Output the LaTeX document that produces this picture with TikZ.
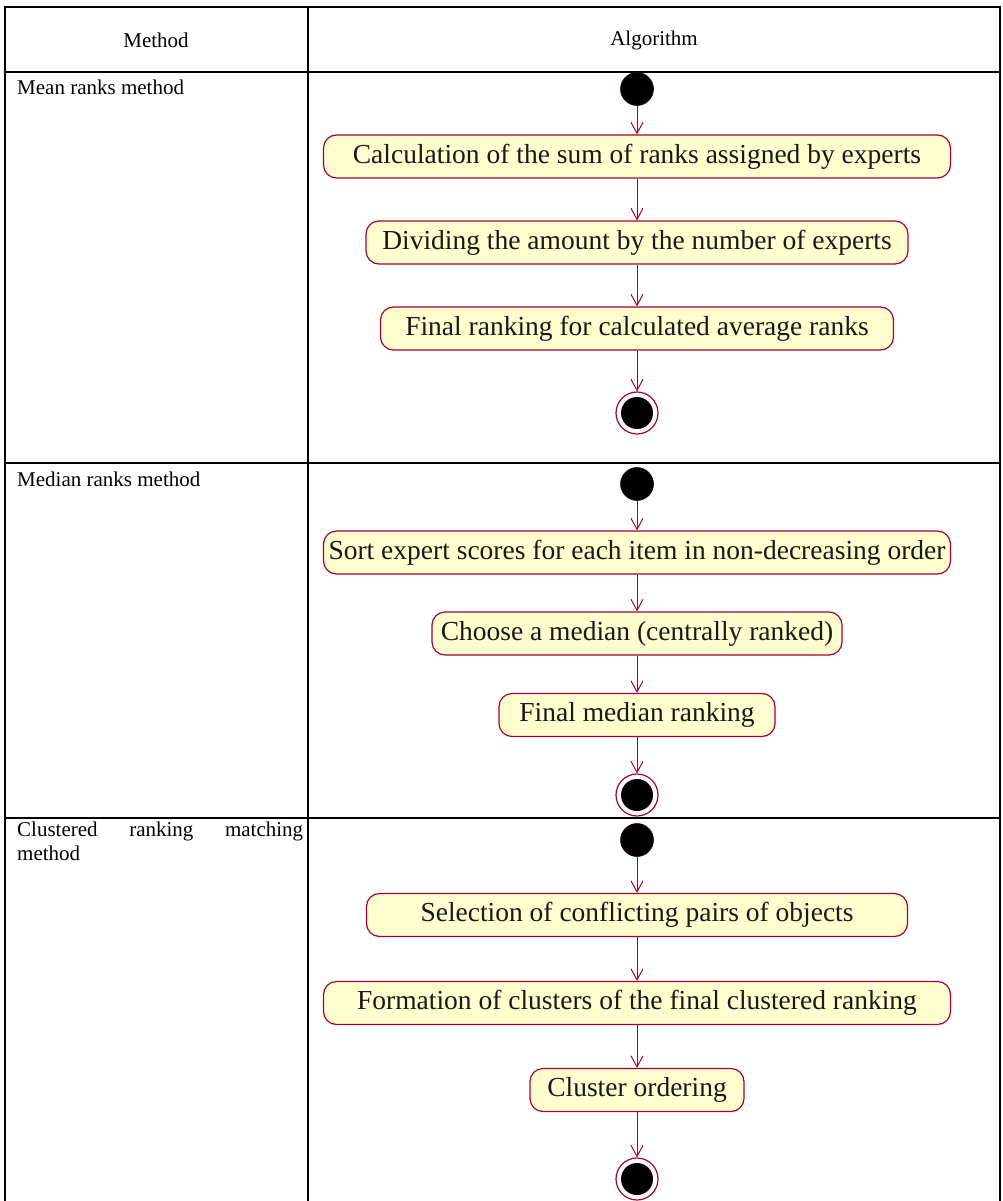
\documentclass[tikz,border=0pt]{standalone}
\usepackage{fontspec}
\setmainfont{Liberation Serif}
\usetikzlibrary{arrows.meta}
\definecolor{umlred}{HTML}{A80036}
\definecolor{umlfill}{HTML}{FEFECE}
\tikzset{
  grid/.style={line width=2pt, black},
  celltext/.style={font=\fontsize{21}{25}\selectfont, inner sep=0pt, anchor=base west},
  headtext/.style={font=\fontsize{21}{25}\selectfont, inner sep=0pt},
  activity/.style={draw=umlred, fill=umlfill, line width=1.2pt, rounded corners=13pt,
    minimum height=43pt, inner xsep=4pt, inner ysep=0pt,
    font=\fontsize{27.5}{32}\selectfont, text=black!90},
  startdot/.style={circle, fill=black, draw=black!70!umlred, line width=0.6pt,
    minimum size=33pt, inner sep=0pt},
  enddot/.style={circle, draw=umlred, line width=1.2pt, fill=white,
    minimum size=42pt, inner sep=0pt,
    path picture={\fill[black] (path picture bounding box.center) circle (16pt);}},
  flow/.style={draw=umlred, line width=1pt, -{Straight Barb[length=11pt,width=12pt]}},
}
\begin{document}
\begin{tikzpicture}[x=1pt, y=-1pt]
\useasboundingbox (0,0) rectangle (1003,1201);

% table grid
\draw[grid] (5,1201) -- (5,7) -- (1000,7) -- (1000,1201);
\draw[grid] (308,7) -- (308,1201);
\draw[grid] (5,72) -- (1000,72);
\draw[grid] (5,463) -- (1000,463);
\draw[grid] (5,818) -- (1000,818);

% header
\node[headtext] (hmethod) at (156,40) {Method};
\node[headtext] (halgo) at (654,40) {Algorithm};

% method names
\node[celltext] (m1) at (17,95) {Mean ranks method};
\node[celltext] (m2) at (17,486) {Median ranks method};
\node[celltext, text width=286pt, align=left, anchor=north west, font=\fontsize{21}{24}\selectfont]
  (m3) at (17,822) {Clustered\hfill ranking\hfill matching\\method};

% mean ranks method
\node[startdot] (s1) at (637,89) {};
\node[activity, minimum width=627pt] (a1) at (637,156.5) {Calculation of the sum of ranks assigned by experts};
\node[activity, minimum width=542pt] (a2) at (637,242.5) {Dividing the amount by the number of experts};
\node[activity, minimum width=513pt] (a3) at (637,328.5) {Final ranking for calculated average ranks};
\node[enddot] (e1) at (637,413) {};
\draw[flow] (s1) -- (a1);
\draw[flow] (a1) -- (a2);
\draw[flow] (a2) -- (a3);
\draw[flow] (a3) -- (e1);

% median ranks method
\node[startdot] (s2) at (637,484) {};
\node[activity, minimum width=627pt] (b1) at (637,552.5) {Sort expert scores for each item in non-decreasing order};
\node[activity, minimum width=410pt] (b2) at (637,633.5) {Choose a median (centrally ranked)};
\node[activity, minimum width=276pt] (b3) at (637,715) {Final median ranking};
\node[enddot] (e2) at (637,795) {};
\draw[flow] (s2) -- (b1);
\draw[flow] (b1) -- (b2);
\draw[flow] (b2) -- (b3);
\draw[flow] (b3) -- (e2);

% clustered ranking matching method
\node[startdot] (s3) at (637,840) {};
\node[activity, minimum width=541pt] (c1) at (637,915) {Selection of conflicting pairs of objects};
\node[activity, minimum width=627pt] (c2) at (637,1003) {Formation of clusters of the final clustered ranking};
\node[activity, minimum width=214pt] (c3) at (637,1090) {Cluster ordering};
\node[enddot] (e3) at (637,1179) {};
\draw[flow] (s3) -- (c1);
\draw[flow] (c1) -- (c2);
\draw[flow] (c2) -- (c3);
\draw[flow] (c3) -- (e3);
\end{tikzpicture}
\end{document}
